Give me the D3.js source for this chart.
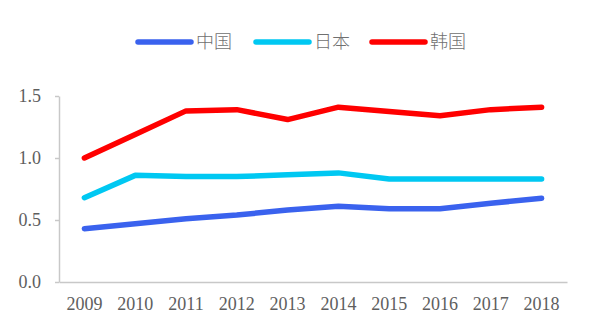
<!DOCTYPE html>
<html>
<head>
<meta charset="utf-8">
<script src="https://cdn.jsdelivr.net/npm/d3@7"></script>
<style>
  html, body { margin: 0; padding: 0; background: #fff; }
  svg { display: block; }
</style>
</head>
<body>
<svg id="chart" width="600" height="331"></svg>
<script>
// Yearly values per country
const years = ["2009","2010","2011","2012","2013","2014","2015","2016","2017","2018"];
const china = [0.43, 0.47, 0.51, 0.54, 0.58, 0.61, 0.59, 0.59, 0.635, 0.675];
const japan = [0.68, 0.86, 0.85, 0.85, 0.865, 0.88, 0.83, 0.83, 0.83, 0.83];
const korea = [1.0, 1.19, 1.38, 1.39, 1.31, 1.41, 1.375, 1.34, 1.39, 1.41];
const yTicks = [0, 0.5, 1.0, 1.5];
const seriesNames = ["中国", "日本", "韩国"];
const seriesColors = ["#3a62ee", "#00c8f2", "#ff0000"];

const series = [china, japan, korea].map((vals, i) => ({
  name: seriesNames[i], color: seriesColors[i], values: vals
}));

const svg = d3.select("#chart");
const margin = { left: 59, right: 33, top: 96, bottom: 49 };
const W = 600, H = 331;

const x = d3.scaleBand().domain(years).range([margin.left, W - margin.right]);
const y = d3.scaleLinear().domain([0, 1.5]).range([H - margin.bottom, margin.top]);

const serif = "'Liberation Serif', 'Times New Roman', serif";
const textColor = "#5e5e5e";
const axisColor = "#c8c8c8";

// Y axis
const yAxis = svg.append("g")
  .attr("transform", `translate(${margin.left},0)`)
  .call(d3.axisLeft(y).tickValues(yTicks).tickFormat(d3.format(".1f")).tickSizeInner(4).tickSizeOuter(0).tickPadding(14));
yAxis.select(".domain").attr("stroke", axisColor).attr("stroke-width", 1.5);
yAxis.selectAll(".tick line").attr("stroke", axisColor).attr("stroke-width", 1.5);
yAxis.selectAll("text").attr("fill", textColor).style("font-family", serif).style("font-size", "18px");

// X axis
const xAxis = svg.append("g")
  .attr("transform", `translate(0,${y(0)})`)
  .call(d3.axisBottom(x).tickSize(0).tickPadding(15));
xAxis.select(".domain").attr("stroke", axisColor).attr("stroke-width", 1.5);
xAxis.selectAll("text").attr("fill", textColor).style("font-family", serif).style("font-size", "18px");

// Lines
const line = d3.line()
  .x((d, i) => x(years[i]) + x.bandwidth() / 2)
  .y(d => y(d));

svg.append("g").selectAll("path")
  .data(series)
  .join("path")
  .attr("d", d => line(d.values))
  .attr("fill", "none")
  .attr("stroke", d => d.color)
  .attr("stroke-width", 5.5)
  .attr("stroke-linecap", "round")
  .attr("stroke-linejoin", "round");

// Legend
const legendX = [138, 256, 372];
const legend = svg.append("g").selectAll("g")
  .data(series)
  .join("g")
  .attr("transform", (d, i) => `translate(${legendX[i]},42)`);
legend.append("line")
  .attr("x1", 0).attr("x2", 53)
  .attr("stroke", d => d.color)
  .attr("stroke-width", 5.5)
  .attr("stroke-linecap", "round");
legend.append("text")
  .attr("x", 58).attr("y", 0).attr("dy", "0.36em")
  .attr("fill", "#707070")
  .style("font-family", "'Noto Sans CJK SC', sans-serif")
  .style("font-weight", 300)
  .style("font-size", "18px")
  .text(d => d.name);
</script>
</body>
</html>
